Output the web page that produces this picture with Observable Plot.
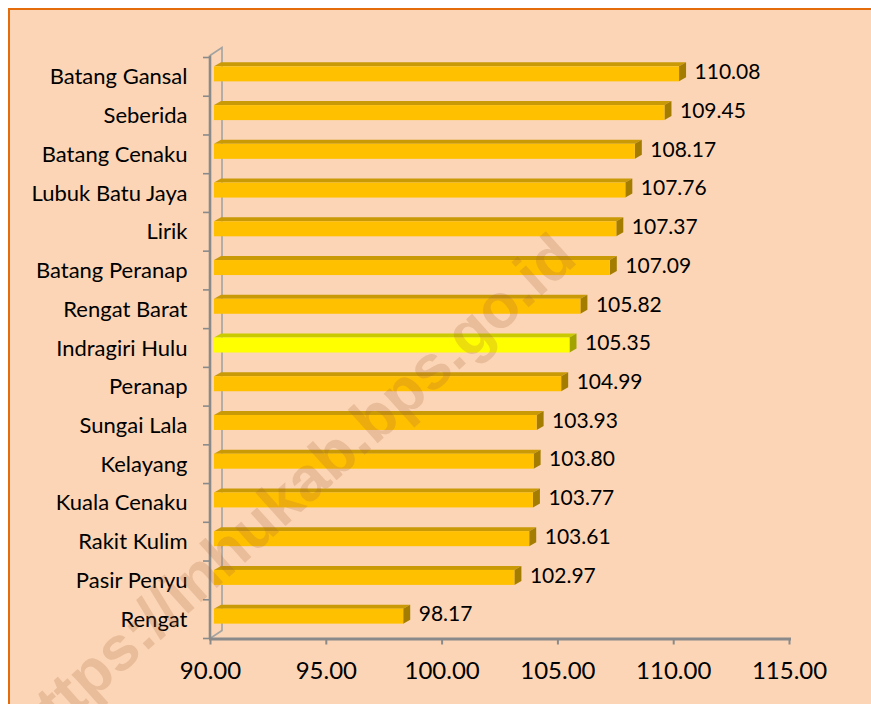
<!DOCTYPE html>
<html><head><meta charset="utf-8">
<script src="https://cdn.jsdelivr.net/npm/d3@7"></script>
<script src="https://cdn.jsdelivr.net/npm/@observablehq/plot@0.6"></script>
<style>
html,body{margin:0;padding:0;background:#fff;width:871px;height:704px;overflow:hidden;}
#panel{position:absolute;left:8px;top:8px;width:900px;height:750px;background:#FBD5B5;border-left:2px solid #E46C0A;border-top:2px solid #E46C0A;box-sizing:border-box;}
#chart{position:absolute;left:0;top:0;}
</style></head><body>
<div id="panel"></div><div id="chart"></div>
<script>
const categories = ["Batang Gansal","Seberida","Batang Cenaku","Lubuk Batu Jaya","Lirik","Batang Peranap","Rengat Barat","Indragiri Hulu","Peranap","Sungai Lala","Kelayang","Kuala Cenaku","Rakit Kulim","Pasir Penyu","Rengat"];
const values = [110.08,109.45,108.17,107.76,107.37,107.09,105.82,105.35,104.99,103.93,103.80,103.77,103.61,102.97,98.17];
const highlight = "Indragiri Hulu";
const xTicks = [90,95,100,105,110,115];
const watermark = "https://inhukab.bps.go.id";

const data = categories.map((name, i) => ({name, value: values[i]}));
const xMin = xTicks[0];

const colors = {
  normal: {front: "#FFC000", top: "#C99A06", side: "#A47C00"},
  hi: {front: "#FFFF00", top: "#CACA00", side: "#A3A300"}
};

function bandwidthOf(scales, dims) {
  return scales.y && scales.y.bandwidth ? scales.y.bandwidth()
    : (dims.height - dims.marginTop - dims.marginBottom) / categories.length;
}

function bars3d(index, scales, vals, dims) {
  const bw = bandwidthOf(scales, dims);
  const g = d3.create("svg:g");
  const ddx = 7, ddy = 4;
  for (const i of index) {
    const X0 = vals.x1[i] + 4, X1 = vals.x2[i] + 4;
    const c = vals.y[i] + bw / 2;
    const yt = c - 10.5, yb = c + 4.5;
    const col = data[i].name === highlight ? colors.hi : colors.normal;
    g.append("polygon").attr("fill", col.top)
      .attr("points", [[X0, yt], [X1, yt], [X1 + ddx, yt - ddy], [X0 + ddx, yt - ddy]].join(" "));
    g.append("polygon").attr("fill", col.side)
      .attr("points", [[X1, yt], [X1 + ddx, yt - ddy], [X1 + ddx, yb - ddy], [X1, yb]].join(" "));
    g.append("rect").attr("fill", col.front)
      .attr("x", X0).attr("y", yt).attr("width", Math.max(0, X1 - X0)).attr("height", yb - yt);
  }
  return g.node();
}

function wall(index, scales, vals, dims) {
  const bw = bandwidthOf(scales, dims);
  const g = d3.create("svg:g").attr("fill", "none");
  const x0 = scales.x(xMin);
  const top = scales.y(categories[0]);
  const bottom = scales.y(categories[categories.length - 1]) + bw;
  const depth = 12, rise = 8;
  g.append("path").attr("stroke", "#A3A3A3").attr("stroke-width", 1.6)
    .attr("d", `M${x0},${top - 2}L${x0 + depth},${top - 2 - rise}L${x0 + depth},${bottom - rise}L${x0},${bottom}`);
  g.append("path").attr("stroke", "#8A8A8A").attr("stroke-width", 2.6)
    .attr("d", `M${x0},${top - 2}L${x0},${bottom}`);
  for (let k = 0; k <= categories.length; k++) {
    const y = top + k * bw;
    g.append("path").attr("stroke", "#8A8A8A").attr("stroke-width", 1.6)
      .attr("d", `M${x0 - 7},${y}L${x0},${y}`);
  }
  return g.node();
}

const chart = Plot.plot({
  width: 871,
  height: 704,
  marginLeft: 210,
  marginRight: 82,
  marginTop: 57.5,
  marginBottom: 65.5,
  style: {background: "transparent", fontFamily: "Lato, 'Open Sans', sans-serif", color: "black", overflow: "visible"},
  x: {domain: [xTicks[0], xTicks[xTicks.length - 1]], axis: null},
  y: {domain: categories, padding: 0, round: false, axis: null},
  marks: [
    Plot.frame({render: wall}),
    Plot.barX(data, {y: "name", x1: () => xMin, x2: "value", render: bars3d}),
    Plot.frame({anchor: "bottom", stroke: "#8A8A8A", strokeWidth: 3}),
    Plot.axisX({ticks: xTicks, tickFormat: d => d.toFixed(2), tickSize: 6, tickPadding: 17, stroke: "#8A8A8A", strokeWidth: 2, fill: "black", fontSize: 24, label: null}),
    Plot.text(categories, {y: d => d, text: d => d, frameAnchor: "left", dx: -23, textAnchor: "end", fontSize: 22, fill: "black"}),
    Plot.text(data, {x: "value", y: "name", text: d => d.value.toFixed(2), dx: 19, dy: -5, textAnchor: "start", fontSize: 21, fill: "black"}),
    Plot.text([watermark], {frameAnchor: "middle", text: d => d, rotate: -42, dx: -208, dy: 145, fontSize: 62, fontWeight: "bold", fontFamily: "'Liberation Sans', sans-serif", fill: "rgb(170,100,60)", fillOpacity: 0.22})
  ]
});
document.getElementById("chart").appendChild(chart);
</script>
</body></html>
